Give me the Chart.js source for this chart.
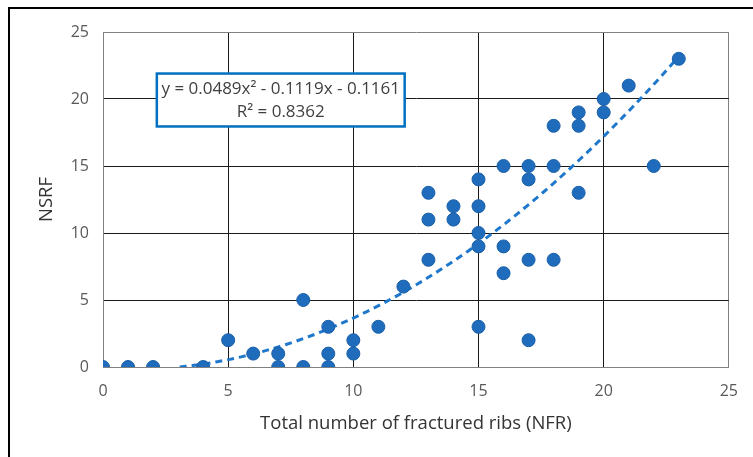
<!DOCTYPE html>
<html lang="en">
<head>
    <meta charset="UTF-8">
    <title>NSRF vs NFR</title>
    <script src="https://cdn.jsdelivr.net/npm/chart.js"></script>
    <style>
        body {
            margin: 0;
            background: #ffffff;
        }
        .wrap {
            position: relative;
            width: 753px;
            height: 457px;
        }
    </style>
</head>
<body>

    <div class="wrap">
        <canvas id="ribChart" width="753" height="457"></canvas>
    </div>

    <script>
        // Total number of fractured ribs (x) and NSRF score (y), one entry per patient
        const nfr  = [0, 1, 2, 4, 5, 6, 7, 7, 8, 8, 9, 9, 9, 10, 10, 11, 12,
                      13, 13, 13, 14, 14, 15, 15, 15, 15, 15, 16, 16, 16,
                      17, 17, 17, 17, 18, 18, 18, 19, 19, 19, 20, 20, 21, 22, 23];
        const nsrf = [0, 0, 0, 0, 2, 1, 1, 0, 5, 0, 3, 1, 0, 2, 1, 3, 6,
                      13, 11, 8, 12, 11, 14, 12, 10, 9, 3, 15, 9, 7,
                      15, 14, 8, 2, 18, 15, 8, 19, 18, 13, 20, 19, 21, 15, 23];

        // polynomial trendline y = a*x^2 + b*x + c
        const trendCoef = [0.0489, -0.1119, -0.1161];
        const trendLabel = ["y = 0.0489x\u00b2 - 0.1119x - 0.1161", "R\u00b2 = 0.8362"];
        const axisTicks = [0, 5, 10, 15, 20, 25];

        const points = nfr.map((x, i) => ({ x: x, y: nsrf[i] }));

        // trendline from where it crosses y = 0 up to the largest NFR
        const [a, b, c] = trendCoef;
        const xStart = (-b + Math.sqrt(b * b - 4 * a * c)) / (2 * a);
        const xEnd = Math.max(...nfr);
        const trend = [];
        for (let x = xStart; x < xEnd; x += 0.25) {
            trend.push({ x: x, y: a * x * x + b * x + c });
        }
        trend.push({ x: xEnd, y: a * xEnd * xEnd + b * xEnd + c });

        const font = "'Open Sans', 'Liberation Sans', sans-serif";
        const edge = v => v === axisTicks[0] || v === axisTicks[axisTicks.length - 1];

        // outer frame and the equation box
        const extras = {
            id: "extras",
            afterDraw(chart) {
                const ctx = chart.ctx;
                ctx.save();
                ctx.strokeStyle = "#000";
                ctx.lineWidth = 2;
                ctx.beginPath();
                ctx.moveTo(9, 457);
                ctx.lineTo(9, 8);
                ctx.lineTo(753, 8);
                ctx.stroke();

                const xs = chart.scales.x, ys = chart.scales.y;
                const left = xs.getPixelForValue(2.15), right = xs.getPixelForValue(12.05);
                const top = ys.getPixelForValue(21.9), bottom = ys.getPixelForValue(17.95);
                ctx.fillStyle = "#fff";
                ctx.fillRect(left, top, right - left, bottom - top);
                ctx.strokeStyle = "#0070c0";
                ctx.lineWidth = 2.5;
                ctx.strokeRect(left, top, right - left, bottom - top);
                ctx.fillStyle = "#404040";
                ctx.font = "17px " + font;
                ctx.textAlign = "center";
                ctx.textBaseline = "middle";
                const cx = (left + right) / 2;
                ctx.fillText(trendLabel[0], cx, top + 16);
                ctx.fillText(trendLabel[1], cx, top + 39);
                ctx.restore();
            }
        };

        new Chart(document.getElementById("ribChart"), {
            type: "scatter",
            data: {
                datasets: [{
                    label: "NSRF",
                    data: points,
                    backgroundColor: "#1f6cbc",
                    borderColor: "#1a5fa8",
                    borderWidth: 1,
                    pointRadius: 6.5,
                    pointHoverRadius: 6.5,
                    order: 0
                }, {
                    label: "Trend",
                    data: trend,
                    showLine: true,
                    borderColor: "#1f78cc",
                    borderWidth: 3,
                    borderDash: [7, 5],
                    pointRadius: 0,
                    fill: false,
                    order: 1
                }]
            },
            options: {
                responsive: false,
                animation: false,
                layout: { padding: { left: 0, top: 32, right: 22, bottom: 0 } },
                plugins: {
                    legend: { display: false },
                    tooltip: { enabled: false }
                },
                scales: {
                    x: {
                        type: "linear",
                        min: 0,
                        max: 25,
                        afterFit(scale) { scale.height = 90; },
                        afterBuildTicks(scale) { scale.ticks = axisTicks.map(v => ({ value: v })); },
                        grid: {
                            color: c => edge(c.tick.value) ? "#808080" : "#1a1a1a",
                            lineWidth: 1,
                            drawTicks: false
                        },
                        border: { color: "#808080", width: 1 },
                        ticks: {
                            padding: 15,
                            color: "#595959",
                            font: { family: font, size: 16 }
                        },
                        title: {
                            display: true,
                            text: "Total number of fractured ribs (NFR)",
                            color: "#333333",
                            font: { family: font, size: 18.5 },
                            padding: { top: 0, bottom: 22 }
                        }
                    },
                    y: {
                        type: "linear",
                        min: 0,
                        max: 25,
                        afterFit(scale) { scale.width = 103; },
                        afterBuildTicks(scale) { scale.ticks = axisTicks.map(v => ({ value: v })); },
                        grid: {
                            color: c => edge(c.tick.value) ? "#808080" : "#1a1a1a",
                            lineWidth: 1,
                            drawTicks: false
                        },
                        border: { color: "#808080", width: 1 },
                        ticks: {
                            padding: 14,
                            color: "#595959",
                            font: { family: font, size: 16 }
                        },
                        title: {
                            display: true,
                            text: "NSRF",
                            color: "#333333",
                            font: { family: font, size: 18.5 },
                            padding: { top: 36, bottom: 0 }
                        }
                    }
                }
            },
            plugins: [extras]
        });
    </script>

</body>
</html>
